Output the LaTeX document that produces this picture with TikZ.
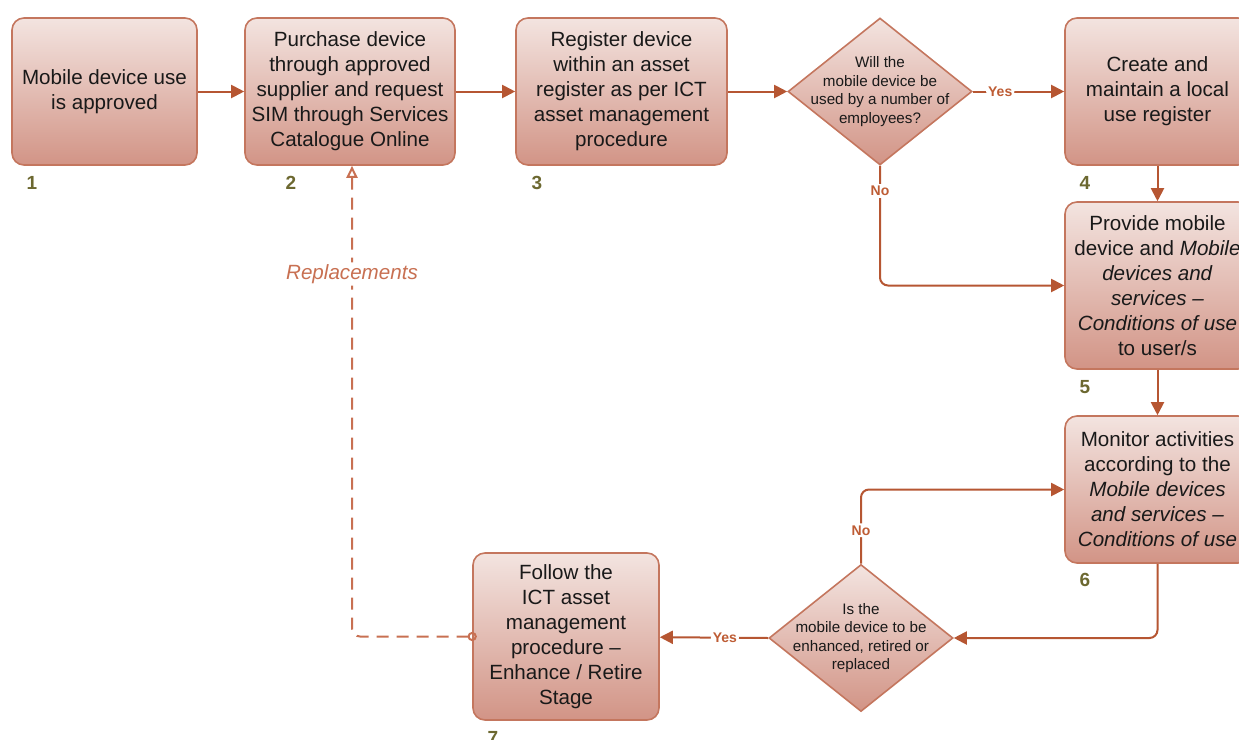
\documentclass[tikz,border=0pt]{standalone}
\usepackage{fontspec}
\setmainfont{Liberation Sans}
\usetikzlibrary{arrows.meta,positioning,shapes.geometric}

\definecolor{boxtop}{RGB}{243,228,224}
\definecolor{boxbot}{RGB}{210,148,134}
\definecolor{boxline}{RGB}{196,118,94}
\definecolor{flow}{RGB}{182,86,50}
\definecolor{flowtext}{RGB}{190,92,52}
\definecolor{repl}{RGB}{200,112,82}
\definecolor{numcol}{RGB}{108,104,48}

\begin{document}
\begin{tikzpicture}[
			x=0.5pt, y=-0.5pt,
			every node/.style={font=\fontsize{10.3}{12.5}\selectfont, text=black!90},
			stepbox/.style={rectangle, rounded corners=6pt, minimum width=92.5pt, minimum height=73.5pt, inner sep=2pt, align=center, draw=boxline, line width=0.8pt, top color=boxtop, bottom color=boxbot},
			decision/.style={diamond, aspect=1.25, minimum width=92pt, minimum height=73.5pt, inner xsep=-25pt, inner ysep=-8pt, align=center, draw=boxline, line width=0.8pt, top color=boxtop, bottom color=boxbot, font=\fontsize{7.6}{9.2}\selectfont},
			num/.style={font=\bfseries\fontsize{9.5}{11}\selectfont, text=numcol},
			lbl/.style={font=\bfseries\fontsize{7}{8}\selectfont, text=flowtext, fill=white, inner sep=1pt},
			arrow/.style={draw=flow, line width=1pt, rounded corners=4pt, -{Triangle[length=6.5pt, width=6.5pt]}},
			dasharrow/.style={draw=repl, line width=1pt, rounded corners=4pt, dash pattern=on 6pt off 4pt, shorten <=-2.3pt, {Circle[open, length=4.6pt, width=4.6pt]}-{Triangle[open, length=6pt, width=5.5pt]}}
		]
		\useasboundingbox (0,0) rectangle (1239,740);
		\clip (0,0) rectangle (1239,740);

		% Nodes
		\node (approved) [stepbox] at (104.5,91.5) {Mobile device use\\is approved};
		\node (purchase) [stepbox, minimum width=105pt] at (350,91.5) {Purchase device\\through approved\\supplier and request\\SIM through Services\\Catalogue Online};
		\node (register) [stepbox, minimum width=105.5pt] at (621.5,91.5) {Register device\\within an asset\\register as per ICT\\asset management\\procedure};
		\node (shared) [decision] at (880,91.5) {Will the\\mobile device be\\used by a number of\\employees?};
		\node (localreg) [stepbox] at (1157.5,91.5) {Create and\\maintain a local\\use register};
		\node (provide) [stepbox, minimum height=83.5pt] at (1157.5,285.5) {Provide mobile\\device and \textit{Mobile}\\\textit{devices and}\\\textit{services –}\\\textit{Conditions of use}\\to user/s};
		\node (monitor) [stepbox] at (1157.5,489.5) {Monitor activities\\according to the\\\textit{Mobile devices}\\\textit{and services –}\\\textit{Conditions of use}};
		\node (change) [decision] at (861,638) {Is the\\mobile device to be\\enhanced, retired or\\replaced};
		\node (retire) [stepbox, minimum width=93pt, minimum height=83.5pt] at (566,636.5) {Follow the\\ICT asset\\management\\procedure –\\Enhance / Retire\\Stage};

		% Step numbers
		\node (n1) [num] at (32,183) {1};
		\node (n2) [num] at (291,183) {2};
		\node (n3) [num] at (537,183) {3};
		\node (n4) [num] at (1085,183) {4};
		\node (n5) [num] at (1085,387) {5};
		\node (n6) [num] at (1085,580) {6};
		\node (n7) [num] at (493,738) {7};

		% Connections
		\draw [arrow] (approved) -- (purchase);
		\draw [arrow] (purchase) -- (register);
		\draw [arrow] (register) -- (shared.west);
		\draw [arrow] (shared.east) -- node[lbl, pos=0.3] {Yes} (localreg);
		\draw [arrow] (shared.south) |- node[lbl, pos=0.105] {No} (provide.west);
		\draw [arrow] (localreg) -- (provide);
		\draw [arrow] (provide) -- (monitor);
		\draw [arrow] (monitor.south) |- (change.east);
		\draw [arrow] (change.north) |- node[lbl, pos=0.225] {No} (monitor.west);
		\draw [arrow] (change.west) -- node[lbl, pos=0.4] {Yes} (retire);
		\draw [dasharrow] (retire.west) -| node[pos=0.885, fill=white, inner sep=1pt, text=repl, font=\itshape\fontsize{10.3}{12.5}\selectfont] {Replacements} ([xshift=1pt]purchase.south);

	\end{tikzpicture}
\end{document}
